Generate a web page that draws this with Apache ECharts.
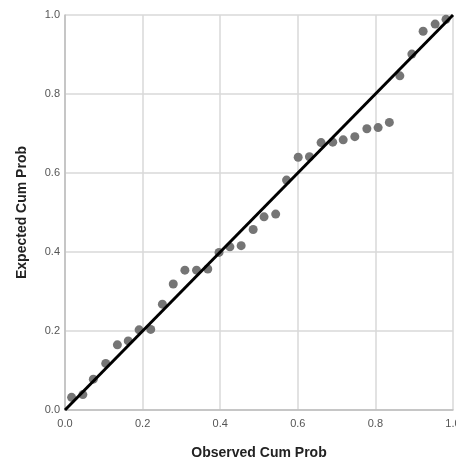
<!DOCTYPE html>
<html>
<head>
<meta charset="utf-8">
<script src="https://cdn.jsdelivr.net/npm/echarts@6/dist/echarts.min.js"></script>
<style>
  html, body { margin: 0; padding: 0; background: #fff; }
  #chart { width: 456px; height: 461px; }
</style>
</head>
<body>
<div id="chart"></div>
<script>
// observed vs expected cumulative probability
const observed = [
  0.017, 0.046, 0.073, 0.105, 0.135, 0.163, 0.191, 0.221, 0.251, 0.279,
  0.309, 0.339, 0.368, 0.397, 0.425, 0.454, 0.485, 0.513, 0.543, 0.571,
  0.601, 0.630, 0.660, 0.690, 0.717, 0.747, 0.778, 0.807, 0.836, 0.863,
  0.894, 0.923, 0.954, 0.982
];
const expected = [
  0.032, 0.039, 0.078, 0.118, 0.165, 0.175, 0.203, 0.204, 0.268, 0.319,
  0.354, 0.354, 0.357, 0.399, 0.413, 0.416, 0.457, 0.489, 0.496, 0.582,
  0.640, 0.641, 0.677, 0.678, 0.684, 0.692, 0.712, 0.715, 0.728, 0.846,
  0.901, 0.959, 0.977, 0.989
];
const refLine = [[0, 0], [1, 1]];

const chart = echarts.init(document.getElementById('chart'));

const axisCommon = {
  type: 'value',
  min: 0,
  max: 1,
  interval: 0.2,
  nameLocation: 'middle',
  nameTextStyle: {
    fontFamily: 'Liberation Sans',
    fontSize: 14,
    fontWeight: 'bold',
    color: '#222'
  },
  axisLine: { show: true, lineStyle: { color: '#bdbdbd', width: 1.5 } },
  axisTick: { show: false },
  axisLabel: {
    fontFamily: 'Liberation Sans',
    fontSize: 11,
    color: '#555',
    formatter: v => v.toFixed(1)
  },
  splitLine: { show: true, lineStyle: { color: '#d9d9d9', width: 1.5 } }
};

const option = {
  animation: false,
  grid: { left: 65, right: 3, top: 15, bottom: 51, outerBoundsMode: 'none', containLabel: false },
  xAxis: Object.assign({}, axisCommon, {
    name: 'Observed Cum Prob',
    nameGap: 36,
    axisLabel: Object.assign({}, axisCommon.axisLabel, { margin: 8 })
  }),
  yAxis: Object.assign({}, axisCommon, {
    name: 'Expected Cum Prob',
    nameGap: 36,
    axisLabel: Object.assign({}, axisCommon.axisLabel, { margin: 5 })
  }),
  series: [
    {
      type: 'scatter',
      data: observed.map((x, i) => [x, expected[i]]),
      symbolSize: 9,
      itemStyle: { color: '#757575', opacity: 1 },
      z: 2
    },
    {
      type: 'line',
      data: refLine,
      showSymbol: false,
      symbol: 'none',
      lineStyle: { color: '#000', width: 3 },
      z: 3
    }
  ]
};

chart.setOption(option);
</script>
</body>
</html>
